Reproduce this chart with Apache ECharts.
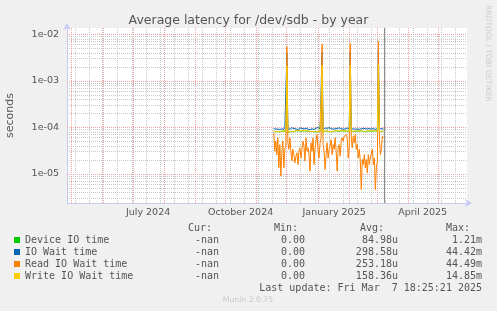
<!DOCTYPE html>
<html><head><meta charset="utf-8">
<script src="https://cdn.jsdelivr.net/npm/echarts@6/dist/echarts.min.js"></script>
<style>html,body{margin:0;padding:0;background:#f0f0f0}#c{width:497px;height:311px}</style>
</head><body><div id="c"></div>
<script>
const dates = [
'2024-11-18','2024-11-19','2024-11-20','2024-11-21','2024-11-22','2024-11-23','2024-11-24','2024-11-25','2024-11-26','2024-11-27','2024-11-28','2024-11-29','2024-11-30',
'2024-12-01','2024-12-02','2024-12-03','2024-12-04','2024-12-05','2024-12-06','2024-12-07','2024-12-08','2024-12-09','2024-12-10','2024-12-11','2024-12-12','2024-12-13','2024-12-14','2024-12-15','2024-12-16','2024-12-17','2024-12-18','2024-12-19','2024-12-20','2024-12-21','2024-12-22','2024-12-23','2024-12-24','2024-12-25','2024-12-26','2024-12-27','2024-12-28','2024-12-29','2024-12-30','2024-12-31',
'2025-01-01','2025-01-02','2025-01-03','2025-01-04','2025-01-05','2025-01-06','2025-01-07','2025-01-08','2025-01-09','2025-01-10','2025-01-11','2025-01-12','2025-01-13','2025-01-14','2025-01-15','2025-01-16','2025-01-17','2025-01-18','2025-01-19','2025-01-20','2025-01-21','2025-01-22','2025-01-23','2025-01-24','2025-01-25','2025-01-26','2025-01-27','2025-01-28','2025-01-29','2025-01-30','2025-01-31',
'2025-02-01','2025-02-02','2025-02-03','2025-02-04','2025-02-05','2025-02-06','2025-02-07','2025-02-08','2025-02-09','2025-02-10','2025-02-11','2025-02-12','2025-02-13','2025-02-14','2025-02-15','2025-02-16','2025-02-17','2025-02-18','2025-02-19','2025-02-20','2025-02-21','2025-02-22','2025-02-23','2025-02-24','2025-02-25','2025-02-26','2025-02-27','2025-02-28',
'2025-03-01','2025-03-02','2025-03-03','2025-03-04','2025-03-05','2025-03-06','2025-03-07'
];
const deviceIO = [
8.3e-5,8.6e-5,8.1e-5,8.5e-5,8.2e-5,8.4e-5,8.0e-5,8.5e-5,8.3e-5,8.1e-5,
8.4e-5,8.7e-5,8.2e-5,6.0e-4,7.9e-5,8.3e-5,8.1e-5,8.5e-5,8.2e-5,8.4e-5,
8.0e-5,8.3e-5,8.6e-5,8.1e-5,8.4e-5,8.2e-5,8.5e-5,7.9e-5,8.3e-5,8.1e-5,
8.5e-5,8.2e-5,8.4e-5,8.0e-5,8.3e-5,8.6e-5,8.1e-5,8.4e-5,8.2e-5,8.5e-5,
8.1e-5,8.3e-5,8.0e-5,8.4e-5,8.2e-5,8.5e-5,8.1e-5,7.9e-5,6.5e-4,7.7e-5,
8.2e-5,8.4e-5,8.1e-5,8.5e-5,8.3e-5,8.0e-5,8.4e-5,8.2e-5,8.6e-5,8.1e-5,
8.3e-5,8.5e-5,8.0e-5,8.4e-5,8.2e-5,8.3e-5,8.1e-5,8.5e-5,8.2e-5,8.4e-5,
8.0e-5,8.3e-5,8.1e-5,8.5e-5,8.2e-5,7.9e-5,6.8e-4,8.1e-5,8.4e-5,8.2e-5,
8.5e-5,8.3e-5,8.1e-5,8.4e-5,8.0e-5,8.3e-5,8.2e-5,8.5e-5,8.1e-5,8.4e-5,
8.2e-5,8.0e-5,8.3e-5,8.5e-5,8.1e-5,8.4e-5,8.2e-5,8.3e-5,8.0e-5,8.4e-5,
8.2e-5,8.5e-5,8.1e-5,8.3e-5,7.2e-4,8.0e-5,8.4e-5,8.2e-5,8.5e-5,8.3e-5
];
const ioWait = [
9.5e-5,9.8e-5,9.2e-5,1.0e-4,9.3e-5,9.7e-5,9.0e-5,9.9e-5,9.4e-5,9.6e-5,
9.1e-5,1.01e-4,9.5e-5,4.0e-3,9.3e-5,9.8e-5,9.2e-5,9.6e-5,9.9e-5,9.1e-5,
9.5e-5,1.0e-4,9.3e-5,9.7e-5,9.0e-5,9.4e-5,9.8e-5,9.2e-5,9.6e-5,9.9e-5,
9.3e-5,9.1e-5,9.7e-5,9.5e-5,9.2e-5,9.8e-5,9.0e-5,9.6e-5,9.4e-5,9.9e-5,
9.1e-5,9.5e-5,9.7e-5,9.3e-5,1.0e-4,9.2e-5,9.4e-5,9.6e-5,4.2e-3,9.0e-5,
9.5e-5,9.8e-5,9.2e-5,9.6e-5,9.1e-5,9.9e-5,9.3e-5,9.5e-5,9.7e-5,9.2e-5,
1.0e-4,9.4e-5,9.1e-5,9.6e-5,9.3e-5,9.8e-5,9.2e-5,9.5e-5,9.9e-5,9.1e-5,
9.6e-5,9.4e-5,9.2e-5,9.7e-5,9.5e-5,9.3e-5,4.3e-3,9.1e-5,9.8e-5,9.4e-5,
9.6e-5,9.2e-5,9.9e-5,9.3e-5,9.5e-5,9.1e-5,9.7e-5,9.4e-5,9.2e-5,9.6e-5,
9.0e-5,9.5e-5,9.8e-5,9.3e-5,9.1e-5,9.6e-5,9.4e-5,9.2e-5,9.7e-5,9.5e-5,
9.3e-5,9.1e-5,9.6e-5,9.4e-5,4.6e-3,9.2e-5,9.8e-5,9.5e-5,9.6e-5,9.3e-5
];
const readIO = [
7.7e-5,3.1e-5,5.1e-5,2.6e-5,6.0e-5,1.36e-5,4.3e-5,9.0e-6,3.1e-5,5.1e-5,
1.36e-5,3.4e-5,4.3e-5,5.5e-3,4.7e-5,3.4e-5,6.0e-5,3.1e-5,1.9e-5,3.4e-5,
2.6e-5,1.74e-5,2.4e-5,2.85e-5,1.6e-5,3.1e-5,3.66e-5,2.2e-5,3.4e-5,5.1e-5,
4.0e-5,1.9e-5,6.0e-5,3.1e-5,3.66e-5,2.6e-5,1.15e-5,4.7e-5,3.1e-5,6.0e-5,
1.6e-5,3.66e-5,5.1e-5,7.1e-5,3.1e-5,2.2e-5,4.7e-5,6.0e-5,6.2e-3,4.3e-5,
3.1e-5,1.25e-5,2.6e-5,4.7e-5,2.2e-5,3.4e-5,4.0e-5,5.5e-5,2.6e-5,4.3e-5,
3.4e-5,6.0e-5,3.1e-5,1.15e-5,3.66e-5,4.3e-5,2.4e-5,5.1e-5,6.0e-5,5.1e-5,
6.5e-5,7.1e-5,7.1e-5,6.0e-5,2.2e-5,3.66e-5,6.4e-3,6.0e-5,3.66e-5,6.5e-5,
4.7e-5,7.1e-5,3.4e-5,4.3e-5,2.2e-5,3.4e-5,1.9e-5,4.6e-6,2.05e-5,1.6e-5,
2.6e-5,1.36e-5,2.05e-5,1.06e-5,2.6e-5,1.6e-5,2.2e-5,2.05e-5,3.4e-5,1.6e-5,
2.2e-5,4.6e-6,1.36e-5,1.9e-5,7.1e-3,6.0e-5,2.6e-5,3.4e-5,6.5e-5,6.0e-5
];
const writeIO = [
8.4e-5,8.7e-5,8.2e-5,8.6e-5,8.3e-5,8.5e-5,8.1e-5,8.6e-5,8.4e-5,8.2e-5,
8.5e-5,8.8e-5,8.3e-5,2.1e-3,8.0e-5,8.4e-5,8.2e-5,8.6e-5,8.3e-5,8.5e-5,
8.1e-5,8.4e-5,8.7e-5,8.2e-5,8.5e-5,8.3e-5,8.6e-5,8.0e-5,8.4e-5,8.2e-5,
8.6e-5,8.3e-5,8.5e-5,8.1e-5,8.4e-5,8.7e-5,8.2e-5,8.5e-5,8.3e-5,8.6e-5,
8.2e-5,8.4e-5,8.1e-5,8.5e-5,8.3e-5,8.6e-5,8.2e-5,8.0e-5,2.2e-3,7.8e-5,
8.3e-5,8.5e-5,8.2e-5,8.6e-5,8.4e-5,8.1e-5,8.5e-5,8.3e-5,8.7e-5,8.2e-5,
8.4e-5,8.6e-5,8.1e-5,8.5e-5,8.3e-5,8.4e-5,8.2e-5,8.6e-5,8.3e-5,8.5e-5,
8.1e-5,8.4e-5,8.2e-5,8.6e-5,8.3e-5,8.0e-5,2.2e-3,8.2e-5,8.5e-5,8.3e-5,
8.6e-5,8.4e-5,8.2e-5,8.5e-5,8.1e-5,8.4e-5,8.3e-5,8.6e-5,8.2e-5,8.5e-5,
8.3e-5,8.1e-5,8.4e-5,8.6e-5,8.2e-5,8.5e-5,8.3e-5,8.4e-5,8.1e-5,8.5e-5,
8.3e-5,8.6e-5,8.2e-5,8.4e-5,2.3e-3,8.1e-5,8.5e-5,8.3e-5,8.6e-5,8.4e-5
];
const seriesNames = ['Device IO time','IO Wait time','Read IO Wait time','Write IO Wait time'];
const seriesColors = ['#00CC00','#0066B3','#FF8000','#FFCC00'];
const curVals = ['-nan','-nan','-nan','-nan'];
const minVals = ['0.00','0.00','0.00','0.00'];
const avgVals = ['84.98u','298.58u','253.18u','158.36u'];
const maxVals = ['1.21m','44.42m','44.49m','14.85m'];
const statHeaders = ['Cur:','Min:','Avg:','Max:'];
const xTickLabels = ['July 2024','October 2024','January 2025','April 2025'];
const xTickDates = ['2024-07-16','2024-10-16','2025-01-17','2025-04-15'];
const yTickValues = [1e-5,1e-4,1e-3,1e-2];
const yTickLabels = ['1e-05','1e-04','1e-03','1e-02'];
const lastUpdate = 'Last update: Fri Mar  7 18:25:21 2025';
const nowStamp = '2025-03-07 18:25:21';
const xMin = '2024-04-26 08:00:00';
const xMax = '2025-05-29 03:00:00';
const yMin = 2.38e-6, yMax = 0.0138;

const ts = s => echarts.time.parse(s).getTime();
const allSeries = [deviceIO, ioWait, readIO, writeIO];

// grid line list: [x, y, kind]  kind 0=h minor,1=h major,2=v minor,3=v major,4=now rule
const gridData = [];
for (let e = -6; e <= -2; e++) {
  for (let m = 1; m <= 9; m++) {
    const v = m * Number('1e' + e);
    if (v > yMin && v < yMax) gridData.push([ts(xMin), v, m === 1 ? 1 : 0]);
  }
}
for (let t = ts('2024-05-05'); t < ts(xMax); t += 14 * 86400000) gridData.push([t, yMin, 2]);
for (let y = 2024, mo = 4; y < 2025 || mo <= 4; ) {
  gridData.push([new Date(y, mo, 1).getTime(), yMin, 3]);
  mo++; if (mo > 11) { mo = 0; y++; }
}
gridData.push([ts(nowStamp), yMin, 4]);
const GRID_STYLE = [
  {stroke:'#c8c8c8', lineWidth:1, lineDash:[1,1]},
  {stroke:'#f0a0a0', lineWidth:1, lineDash:[1,1]},
  {stroke:'#c8c8c8', lineWidth:1, lineDash:[1,1]},
  {stroke:'#f0a0a0', lineWidth:1, lineDash:[1,1]},
  {stroke:'#8c8c8c', lineWidth:1}
];

const series = [{
  name: '_grid', type: 'custom', z: 1, silent: true, animation: false, clip: false,
  encode: {x: 0, y: 1},
  data: gridData,
  renderItem: (params, api) => {
    const cs = params.coordSys;
    const kind = api.value(2);
    const p = api.coord([api.value(0), api.value(1)]);
    let shape;
    if (kind < 2) {
      const y = Math.round(p[1] - 0.5) + 0.5;
      shape = {x1: cs.x, y1: y, x2: cs.x + cs.width, y2: y};
    } else {
      const x = Math.round(p[0] - 0.5) + 0.5;
      shape = {x1: x, y1: cs.y, x2: x, y2: cs.y + cs.height};
    }
    return {type: 'line', shape: shape, style: Object.assign({}, GRID_STYLE[kind])};
  }
}];
allSeries.forEach((arr, k) => {
  series.push({
    name: seriesNames[k], type: 'line', z: 2 + k, showSymbol: false, animation: false,
    color: seriesColors[k],
    lineStyle: {width: 1, color: seriesColors[k]},
    data: dates.map((d, i) => [ts(d), arr[i]])
  });
});

const TXT = '#555';
const graphic = [];
const headerRight = [212, 298, 384, 470];
const valRight = [219, 305, 398, 482];
statHeaders.forEach((h, j) => graphic.push({type:'text', style:{text:h, x:headerRight[j], y:228.5, align:'right', verticalAlign:'middle', font:'10px "DejaVu Sans Mono"', fill:TXT}}));
[curVals, minVals, avgVals, maxVals].forEach((col, j) => {
  col.forEach((v, r) => graphic.push({type:'text', style:{text:v, x:valRight[j], y:240 + 12 * r, align:'right', verticalAlign:'middle', font:'10px "DejaVu Sans Mono"', fill:TXT}}));
});
graphic.push({type:'text', style:{text:lastUpdate, x:482, y:288, align:'right', verticalAlign:'middle', font:'10px "DejaVu Sans Mono"', fill:TXT}});
graphic.push({type:'text', style:{text:'Munin 2.0.75', x:248, y:300.5, align:'center', verticalAlign:'middle', font:'7.7px "DejaVu Sans"', fill:'#c8c8c8'}});
graphic.push({type:'text', x:488, y:53.5, rotation:-Math.PI/2, style:{text:'RRDTOOL / TOBI OETIKER', x:0, y:0, align:'center', verticalAlign:'middle', font:'7.5px "DejaVu Sans"', fill:'#cccccc'}});

const chart = echarts.init(document.getElementById('c'), null, {renderer:'canvas'});
chart.setOption({
  backgroundColor: '#f0f0f0',
  animation: false,
  title: {text:'Average latency for /dev/sdb - by year', left:'center', top:9,
    textStyle:{fontFamily:'DejaVu Sans', fontSize:12.5, fontWeight:'normal', color:TXT}},
  grid: {left:67, top:28, width:400, height:175, show:true, backgroundColor:'#ffffff', borderWidth:0, outerBoundsMode:'none', containLabel:false},
  legend: {orient:'vertical', left:14, top:234, padding:0, itemWidth:6, itemHeight:6, itemGap:0, icon:'rect', selectedMode:false,
    textStyle:{fontFamily:'DejaVu Sans Mono', fontSize:10, color:TXT, lineHeight:12},
    data: seriesNames},
  xAxis: {type:'value', min: ts(xMin), max: ts(xMax), scale:true,
    axisLine:{show:true, lineStyle:{color:'#c8ccf4', width:1}, symbol:['none','arrow'], symbolSize:[6,7], symbolOffset:[0,5]},
    axisTick:{show:false}, splitLine:{show:false}, minorTick:{show:false},
    axisLabel:{customValues: xTickDates.map(ts), margin:5, fontFamily:'DejaVu Sans', fontSize:9.5, color:TXT,
      formatter: v => { let best = 0, bd = Infinity; xTickDates.forEach((d, i) => { const dd = Math.abs(ts(d) - v); if (dd < bd) { bd = dd; best = i; } }); return xTickLabels[best]; }}},
  yAxis: {type:'log', logBase:10, min:yMin, max:yMax, name:'seconds', nameLocation:'middle', nameGap:51,
    nameTextStyle:{fontFamily:'DejaVu Sans', fontSize:11, color:TXT},
    axisLine:{show:true, lineStyle:{color:'#c8ccf4', width:1}, symbol:['none','arrow'], symbolSize:[6,7], symbolOffset:[0,5]},
    axisTick:{show:false}, splitLine:{show:false}, minorTick:{show:false}, minorSplitLine:{show:false},
    axisLabel:{margin:8, fontFamily:'DejaVu Sans', fontSize:9.5, color:TXT, showMinLabel:false, showMaxLabel:false,
      formatter: v => { for (let i = 0; i < yTickValues.length; i++) { if (Math.abs(v / yTickValues[i] - 1) < 1e-6) return yTickLabels[i]; } return ''; }}},
  graphic: graphic,
  series: series
});
</script></body></html>
